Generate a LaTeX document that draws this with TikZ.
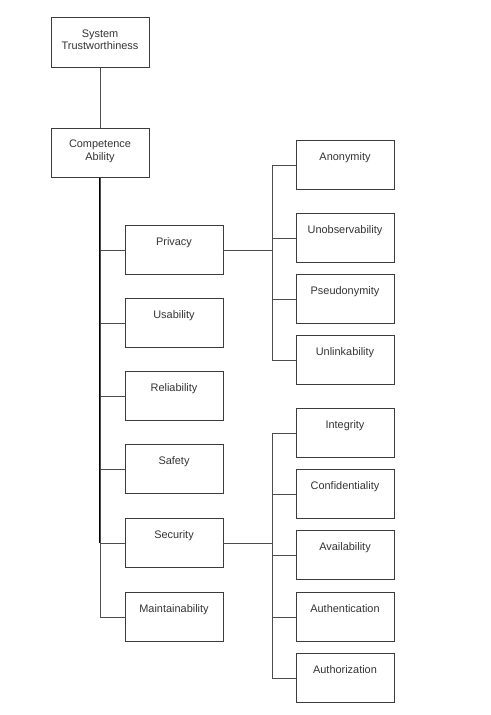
\documentclass[tikz,border=0pt]{standalone}
\usepackage{fontspec}
\setmainfont{Liberation Sans}
\definecolor{boxline}{HTML}{3C3C3C}
\definecolor{txt}{HTML}{333333}
\tikzset{
  box/.style={draw=boxline, line width=0.7pt, rectangle, minimum width=73.5pt, minimum height=36.75pt, inner sep=0pt},
  tag/.style={font=\fontsize{8.2}{9.6}\selectfont, text=txt, align=center, inner sep=0pt},
  link/.style={draw=black!70, line width=0.65pt},
  trunk/.style={draw=black, line width=1pt}
}
\begin{document}
\begin{tikzpicture}[x=0.75pt, y=-0.75pt]
\useasboundingbox (0,0) rectangle (490,715);
\node[box, minimum height=37.5pt, label={[tag, anchor=north, yshift=-9.5pt]north:System\\Trustworthiness}] (trust) at (100,42) {};
\node[box, label={[tag, anchor=north, yshift=-9pt]north:Competence\\Ability}] (comp) at (100,153) {};
\node[box, label={[tag, anchor=north, yshift=-9.5pt]north:Privacy}] (privacy) at (174,250) {};
\node[box, label={[tag, anchor=north, yshift=-9.5pt]north:Usability}] (usab) at (174,323) {};
\node[box, label={[tag, anchor=north, yshift=-9.5pt]north:Reliability}] (relia) at (174,396) {};
\node[box, label={[tag, anchor=north, yshift=-9.5pt]north:Safety}] (safety) at (174,469) {};
\node[box, label={[tag, anchor=north, yshift=-9.5pt]north:Security}] (security) at (174,543) {};
\node[box, label={[tag, anchor=north, yshift=-9.5pt]north:Maintainability}] (maint) at (174,617) {};
% privacy attributes
\node[box, label={[tag, anchor=north, yshift=-9.5pt]north:Anonymity}] (anon) at (345,165) {};
\node[box, label={[tag, anchor=north, yshift=-9.5pt]north:Unobservability}] (unobs) at (345,238) {};
\node[box, label={[tag, anchor=north, yshift=-9.5pt]north:Pseudonymity}] (pseudo) at (345,299) {};
\node[box, label={[tag, anchor=north, yshift=-9.5pt]north:Unlinkability}] (unlink) at (345,360) {};
% security attributes
\node[box, label={[tag, anchor=north, yshift=-9.5pt]north:Integrity}] (integ) at (345,433) {};
\node[box, label={[tag, anchor=north, yshift=-9.5pt]north:Confidentiality}] (confid) at (345,494) {};
\node[box, label={[tag, anchor=north, yshift=-9.5pt]north:Availability}] (avail) at (345,555) {};
\node[box, label={[tag, anchor=north, yshift=-9.5pt]north:Authentication}] (authen) at (345,617) {};
\node[box, label={[tag, anchor=north, yshift=-9.5pt]north:Authorization}] (author) at (345,678) {};
\coordinate (pj) at (272,250);
\coordinate (sj) at (272,543);
\draw[link] (trust) -- (comp);
\draw[link] (comp.south) |- (maint.west);
\draw[trunk] (comp.south) -- (comp.south |- security.west);
\foreach \k in {privacy,usab,relia,safety,security}
  \draw[link] (comp.south) |- (\k.west);
\draw[link] (privacy.east) -- (pj);
\foreach \k in {anon,unobs,pseudo,unlink}
  \draw[link] (pj) |- (\k.west);
\draw[link] (security.east) -- (sj);
\foreach \k in {integ,confid,avail,authen,author}
  \draw[link] (sj) |- (\k.west);
\end{tikzpicture}
\end{document}
